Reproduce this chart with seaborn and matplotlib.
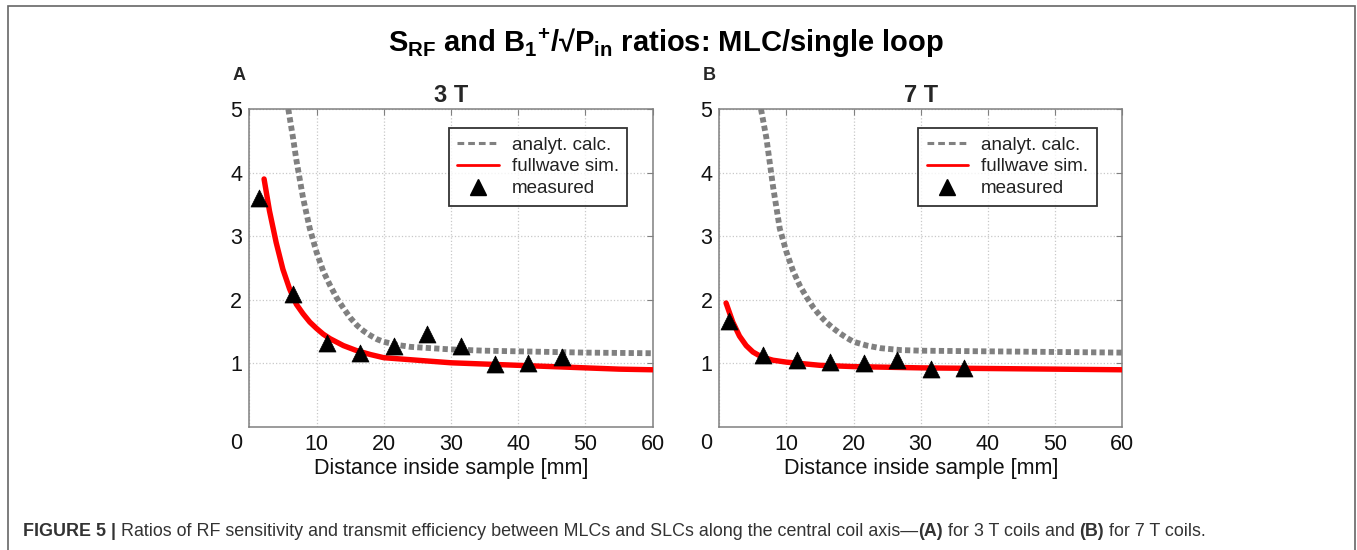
import matplotlib
matplotlib.use("Agg")
import matplotlib.pyplot as plt
from matplotlib.lines import Line2D
from matplotlib.patches import Rectangle
import seaborn as sns
import pandas as pd

# --- datos (distancia en mm, cociente MLC/SLC) ---
# 3 T
x_calc_3t = [5.8, 6.5, 7, 8, 9, 10, 11, 12, 13, 14, 15, 16, 17, 18, 19, 20, 22, 24, 27, 30, 35, 40, 45, 50, 60]
y_calc_3t = [5.0, 4.55, 4.2, 3.6, 3.12, 2.75, 2.45, 2.23, 2.03, 1.87, 1.72, 1.60, 1.51, 1.44, 1.38, 1.34, 1.29, 1.26, 1.24, 1.22, 1.20, 1.19, 1.18, 1.17, 1.16]
x_sim_3t = [2.2, 3, 4, 5, 6, 7, 8, 9, 10, 11, 12, 14, 16, 18, 20, 25, 30, 35, 40, 45, 50, 55, 60]
y_sim_3t = [3.90, 3.40, 2.90, 2.48, 2.17, 1.93, 1.78, 1.65, 1.55, 1.46, 1.39, 1.28, 1.20, 1.14, 1.09, 1.05, 1.01, 0.99, 0.97, 0.95, 0.93, 0.91, 0.90]
x_meas_3t = [1.5, 6.5, 11.5, 16.5, 21.5, 26.5, 31.5, 36.5, 41.5, 46.5]
y_meas_3t = [3.60, 2.09, 1.32, 1.16, 1.28, 1.47, 1.28, 0.99, 1.01, 1.10]

# 7 T
x_calc_7t = [6.2, 7, 8, 9, 10, 11, 12, 13, 14, 15, 16, 17, 18, 19, 20, 22, 24, 27, 30, 40, 50, 60]
y_calc_7t = [5.0, 4.55, 3.78, 3.12, 2.75, 2.45, 2.22, 2.04, 1.88, 1.75, 1.64, 1.55, 1.47, 1.40, 1.34, 1.28, 1.24, 1.21, 1.20, 1.19, 1.18, 1.17]
x_sim_7t = [1, 2, 3, 4, 5, 6, 7, 8, 10, 12, 15, 20, 25, 30, 40, 50, 60]
y_sim_7t = [1.95, 1.65, 1.43, 1.28, 1.18, 1.12, 1.08, 1.05, 1.02, 1.00, 0.97, 0.95, 0.94, 0.93, 0.92, 0.91, 0.90]
x_meas_7t = [1.5, 6.5, 11.5, 16.5, 21.5, 26.5, 31.5, 36.5]
y_meas_7t = [1.66, 1.14, 1.05, 1.03, 1.01, 1.05, 0.91, 0.93]

x_ticks = [0, 10, 20, 30, 40, 50, 60]
y_ticks = [1, 2, 3, 4, 5]

sns.set_style("white")
plt.rcParams['font.family'] = ['Liberation Sans', 'DejaVu Sans']
plt.rcParams['mathtext.fontset'] = 'custom'
plt.rcParams['mathtext.rm'] = 'Liberation Sans'
plt.rcParams['mathtext.bf'] = 'Liberation Sans:bold'

GRIS = '#808080'
ROJO = '#ff0000'

fig = plt.figure(figsize=(13.57, 5.5), dpi=100)
ax_a = fig.add_axes([0.1837, 0.2236, 0.2973, 0.5782])
ax_b = fig.add_axes([0.5301, 0.2236, 0.2968, 0.5782])


# dibuja un panel completo
def panel(ax, xc, yc, xs, ys, xm, ym, titulo, letra):
    calc = pd.DataFrame({'x': xc, 'y': yc})
    sim = pd.DataFrame({'x': xs, 'y': ys})
    meas = pd.DataFrame({'x': xm, 'y': ym})
    sns.lineplot(data=calc, x='x', y='y', ax=ax, color=GRIS, lw=4.2,
                 linestyle=(0, (0.9, 0.55)), sort=False, zorder=3)
    sns.lineplot(data=sim, x='x', y='y', ax=ax, color=ROJO, lw=3.9,
                 sort=False, zorder=4)
    sns.scatterplot(data=meas, x='x', y='y', ax=ax, marker='^', s=150,
                    color='black', edgecolor='black', linewidth=0.5, zorder=5)
    ax.set_xlim(0, 60)
    ax.set_ylim(0, 5)
    ax.set_xticks(x_ticks)
    ax.set_xticklabels([''] + [str(t) for t in x_ticks[1:]])
    ax.set_yticks(y_ticks)
    ax.grid(True, color='#c8c8c8', linestyle=':', linewidth=0.9)
    ax.set_axisbelow(True)
    for s in ax.spines.values():
        s.set_color(GRIS)
        s.set_linewidth(1.1)
        s.set_visible(True)
    ax.tick_params(direction='in', length=4, color=GRIS, labelsize=15.5,
                   labelcolor='#111111', pad=5, top=True, right=True)
    ax.annotate('0', xy=(0, 0), xytext=(-13, -16), textcoords='offset pixels',
                ha='center', va='center', fontsize=15.5, color='#111111')
    ax.set_xlabel('Distance inside sample [mm]', fontsize=15.5, labelpad=2, color='#111111')
    ax.set_ylabel('')
    ax.set_title(titulo, fontsize=17, fontweight='bold', pad=5)
    ax.text(-0.025, 1.105, letra, transform=ax.transAxes, fontsize=13,
            fontweight='bold', ha='center', va='center')
    handles = [
        Line2D([], [], color=GRIS, lw=2.2, linestyle=(0, (2.2, 1.3))),
        Line2D([], [], color=ROJO, lw=2.0),
        Line2D([], [], color='black', marker='^', linestyle='none', markersize=12),
    ]
    leg = ax.legend(handles, ['analyt. calc.', 'fullwave sim.', 'measured'],
                    loc='upper right', bbox_to_anchor=(0.937, 0.94), fontsize=13.5,
                    frameon=True, fancybox=False, edgecolor='black',
                    handlelength=2.2, handletextpad=0.7, labelspacing=0.25,
                    borderpad=0.45, borderaxespad=0)
    leg.get_frame().set_linewidth(1.3)
    for t in leg.get_texts():
        t.set_color('#222222')


panel(ax_a, x_calc_3t, y_calc_3t, x_sim_3t, y_sim_3t, x_meas_3t, y_meas_3t, '3 T', 'A')
panel(ax_b, x_calc_7t, y_calc_7t, x_sim_7t, y_sim_7t, x_meas_7t, y_meas_7t, '7 T', 'B')

fig.text(0.491, 0.922,
         r"S$_\mathbf{RF}$ and B$_\mathbf{1}$$^\mathbf{+}$/√P$_\mathbf{in}$ ratios: MLC/single loop",
         ha='center', va='center', fontsize=21, fontweight='bold', color='black')

# marco exterior
fig.patches.append(Rectangle((8 / 1357, -0.05), 1347 / 1357, 1.05 - 6 / 550,
                             transform=fig.transFigure, fill=False,
                             edgecolor='#666666', linewidth=1.2))

# pie de figura con partes en negrita
partes = [('FIGURE 5 |', 'bold'),
          (' Ratios of RF sensitivity and transmit efficiency between MLCs and SLCs along the central coil axis\u2014', 'normal'),
          ('(A)', 'bold'), (' for 3 T coils and ', 'normal'), ('(B)', 'bold'), (' for 7 T coils.', 'normal')]
renderer = fig.canvas.get_renderer()
xpos = 23
for txt, peso in partes:
    t = fig.text(xpos / 1357, (550 - 532) / 550, txt, fontsize=12.9, fontweight=peso,
                 color='#333333', ha='left', va='center')
    bb = t.get_window_extent(renderer=renderer)
    xpos += bb.width

plt.savefig('out.png', dpi=100)
